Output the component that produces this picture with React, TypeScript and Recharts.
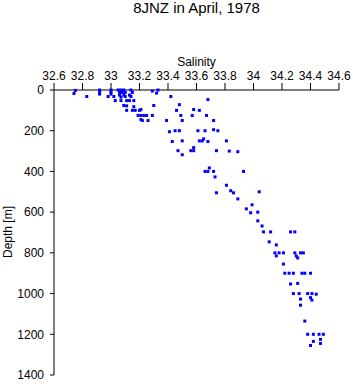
import React from "react"
import { ScatterChart, Scatter, XAxis, YAxis } from "recharts"

// Salinity / depth pairs
const salinity = [
  32.75, 32.74, 32.83, 32.92, 32.92, 32.92, 33.0, 33.0, 33.0, 32.98, 33.02,
  33.05, 33.07, 33.09, 33.06, 33.08, 33.1, 33.06, 33.09, 33.1, 33.07, 33.14,
  33.15, 33.13, 33.14, 33.03, 33.07, 33.11, 33.13, 33.16, 33.09, 33.11, 33.16,
  33.11, 33.15, 33.17, 33.2, 33.19, 33.21, 33.23, 33.21, 33.29, 33.33, 33.32,
  33.42, 33.68, 33.3, 33.48, 33.21, 33.46, 33.58, 33.62, 33.25, 33.29, 33.49,
  33.57, 33.67, 33.22, 33.26, 33.39, 33.5, 33.72, 33.41, 33.45, 33.48, 33.61,
  33.66, 33.72, 33.75, 33.43, 33.5, 33.62, 33.64, 33.65, 33.68, 33.81, 33.58,
  33.47, 33.56, 33.58, 33.5, 33.74, 33.83, 33.89, 33.69, 33.66, 33.68, 33.72,
  33.73, 33.81, 33.93, 33.74, 33.84, 33.86, 33.89, 34.04, 33.99, 33.95, 33.98,
  34.03, 34.03, 34.06, 34.07, 34.12, 34.26, 34.29, 34.11, 34.16, 34.15, 34.18,
  34.21, 34.16, 34.29, 34.33, 34.3, 34.31, 34.35, 34.21, 34.22, 34.25, 34.28,
  34.34, 34.36, 34.4, 34.26, 34.31, 34.28, 34.32, 34.38, 34.41, 34.44, 34.4,
  34.41, 34.33, 34.33, 34.36, 34.38, 34.42, 34.46, 34.49, 34.47, 34.42, 34.47,
  34.4,
]
const depth = [
  2, 17, 32, 0, 10, 20, 0, 10, 20, 32, 32,
  0, 0, 0, 12, 12, 12, 25, 25, 32, 35, 0,
  12, 25, 32, 52, 52, 52, 52, 52, 76, 78, 82,
  100, 100, 100, 100, 125, 125, 125, 145, 5, 0, 15,
  32, 47, 76, 72, 96, 100, 96, 100, 125, 125, 125,
  125, 125, 150, 150, 150, 150, 150, 205, 200, 200, 200,
  200, 195, 200, 253, 250, 250, 250, 240, 253, 250, 283,
  298, 298, 298, 318, 298, 300, 303, 383, 400, 400, 400,
  427, 468, 400, 505, 495, 505, 535, 500, 564, 584, 603,
  600, 643, 668, 697, 697, 697, 697, 746, 761, 800, 800,
  800, 815, 800, 800, 815, 825, 800, 855, 900, 900, 900,
  900, 900, 900, 953, 950, 1000, 1000, 1000, 1000, 1003, 1020,
  1032, 1027, 1057, 1135, 1200, 1200, 1200, 1200, 1225, 1235, 1245,
  1255,
]
const salinityTicks = [32.6, 32.8, 33, 33.2, 33.4, 33.6, 33.8, 34, 34.2, 34.4, 34.6]
const depthTicks = [0, 200, 400, 600, 800, 1000, 1200, 1400]

const points = salinity.map((s, i) => ({ salinity: s, depth: depth[i] }))

const Dot = (props: any) => (
  <rect x={props.cx - 1.5} y={props.cy - 1.5} width={3} height={3} fill="#0000ff" />
)

export default function App() {
  return (
    <div
      style={{
        position: "absolute",
        left: 0,
        top: 0,
        fontFamily: '"Liberation Sans", Arial, sans-serif',
      }}
    >
      <ScatterChart width={353} height={384} margin={{ top: 0, right: 14, bottom: 9, left: 0 }}>
        <text x={196.5} y={13} textAnchor="middle" fontSize={15} fill="#000">
          8JNZ in April, 1978
        </text>
        <text
          transform="rotate(-90)"
          x={-232}
          y={12}
          textAnchor="middle"
          fontSize={12}
          fill="#000"
        >
          Depth [m]
        </text>
        <XAxis
          type="number"
          dataKey="salinity"
          orientation="top"
          domain={[32.6, 34.6]}
          ticks={salinityTicks}
          interval={0}
          height={90}
          tickSize={7}
          tickMargin={3}
          tick={{ fontSize: 12, fill: "#000" }}
          tickFormatter={(v: number) => String(Number(v.toFixed(1)))}
          stroke="#000"
          label={{ value: "Salinity", position: "insideTop", offset: 57, fontSize: 12, fill: "#000" }}
        />
        <YAxis
          type="number"
          dataKey="depth"
          reversed
          domain={[0, 1400]}
          ticks={depthTicks}
          interval={0}
          width={54}
          tickSize={4}
          tickMargin={6}
          tick={{ fontSize: 12, fill: "#000" }}
          stroke="#000"
        />
        <Scatter data={points} shape={Dot} isAnimationActive={false} />
      </ScatterChart>
    </div>
  )
}
